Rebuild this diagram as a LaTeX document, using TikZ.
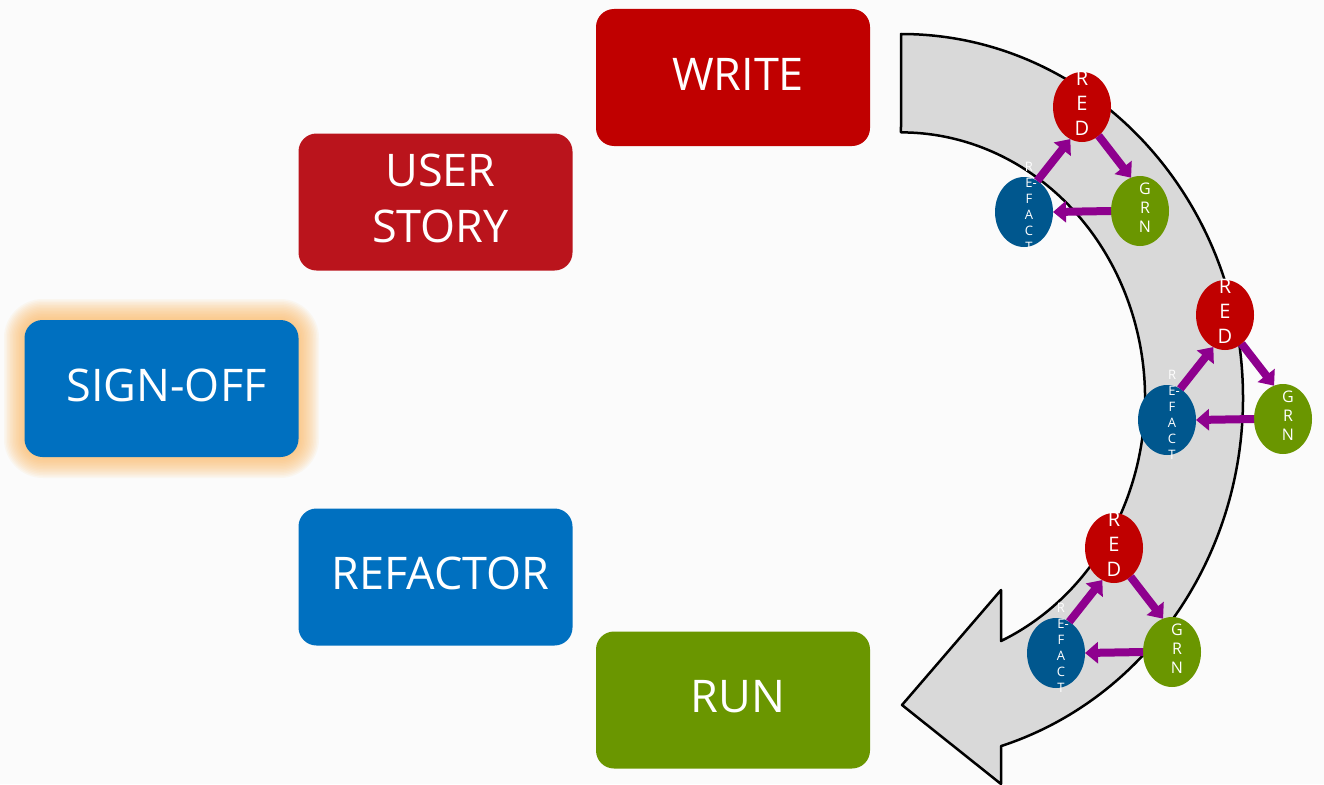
\documentclass[tikz,border=0pt]{standalone}
\usepackage{fontspec}
\setmainfont{Open Sans}
\usetikzlibrary{shapes.geometric,arrows.meta}
\definecolor{bgc}{HTML}{FBFBFB}
\definecolor{wred}{HTML}{C00000}
\definecolor{sred}{HTML}{BA141C}
\definecolor{sblue}{HTML}{0070C0}
\definecolor{rgreen}{HTML}{6A9600}
\definecolor{cblue}{HTML}{00578E}
\definecolor{apurple}{HTML}{8E008E}
\definecolor{bandgray}{HTML}{D9D9D9}
\definecolor{glowc}{HTML}{FAB860}
\begin{document}
\begin{tikzpicture}[x=1pt, y=1pt, line join=round,
	box/.style={rounded corners=18pt, minimum width=274pt, minimum height=137pt, inner sep=0pt, text depth=7pt, text=white, align=center, font=\fontsize{45}{56}\selectfont, execute at begin node={\hspace*{10pt}}},
	dot/.style={ellipse, minimum width=58pt, minimum height=70pt, inner sep=0pt, outer sep=0pt},
	txt/.style={text=white, align=center, inner sep=0pt},
	flow/.style={draw=apurple, line width=8pt, -{Triangle[length=13pt,width=21pt]}},
	band/.style={fill=bandgray, draw=black, line width=2.5pt}]
	\fill[bgc] (0,0) rectangle (1324,-784);
	\useasboundingbox (0,0) rectangle (1324,-784);
	\foreach \g [evaluate=\g as \r using 18+1.5*\g] in {1,...,14}
		\fill[glowc, opacity=.075, rounded corners=\r*1pt] (25-1.5*\g,-320+1.5*\g) rectangle (298+1.5*\g,-457-1.5*\g);
	\draw[band] (901,-34) arc[start angle=90, end angle=-73, x radius=342, y radius=364]
		-- (1001,-784) -- (902,-705) -- (1001,-590) -- (1001,-641)
		arc[start angle=-65.8, end angle=90, x radius=244, y radius=266] -- cycle;

	\node[box, fill=wred] (write) at (733,-77.5) {WRITE};
	\node[box, fill=sred] (story) at (435.5,-202) {USER\\STORY};
	\node[box, fill=sblue] (sign) at (161.5,-388.5) {SIGN-OFF};
	\node[box, fill=sblue] (refactor) at (435.5,-577) {REFACTOR};
	\node[box, fill=rgreen] (run) at (733,-700) {RUN};

	\foreach \n/\x/\y in {1/1082/107, 2/1225/315, 3/1114/548}{
		\node[dot, fill=wred, label={[txt, font=\fontsize{20}{25}\selectfont, yshift=4pt]center:{R\\E\\D}}] (red\n) at (\x,-\y) {};
		\node[dot, fill=rgreen, label={[txt, font=\fontsize{16}{19}\selectfont, xshift=5pt, yshift=3pt]center:{G\\R\\N}}] (grn\n) at (\x+58,-\y-104) {};
		\node[dot, fill=cblue, label={[txt, font=\fontsize{13}{16}\selectfont, xshift=5pt, yshift=5pt]center:{R\\E\rlap{-}\\F\\A\\C\\T}}] (ref\n) at (\x-58,-\y-105) {};
		\draw[flow] (ref\n.67) -- (red\n.250);
		\draw[flow] (red\n.-60) -- (grn\n.105);
		\draw[flow] (grn\n.180) -- (ref\n.0);
	}
\end{tikzpicture}
\end{document}
